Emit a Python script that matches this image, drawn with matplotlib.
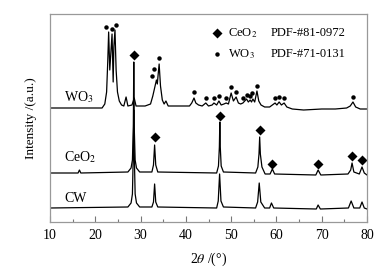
#!/usr/bin/env python3
"""
XRD patterns of WO3, CeO2 and CW samples
"""

import matplotlib
matplotlib.use('Agg')
import matplotlib.pyplot as plt

plt.rcParams['font.family'] = ['Liberation Serif', 'DejaVu Serif']
plt.rcParams['mathtext.fontset'] = 'stix'
plt.rcParams['font.size'] = 9

# pattern traces, (2theta, intensity in a.u.)
wo3_theta = [10, 21.5, 22.1, 22.5, 22.75, 22.95, 23.2, 23.45, 23.7, 23.95, 24.1, 24.35, 24.6, 24.9,
             25.3, 25.8, 26.3, 26.8, 27.2, 28.1, 28.6, 29.0, 31.0, 32.2, 32.7, 33.1, 33.5, 33.7,
             33.85, 34.1, 34.4, 34.8, 35.2, 35.6, 36.1, 40.8, 41.3, 41.8, 42.2, 42.8, 43.6, 44.4,
             45.0, 45.8, 46.2, 46.8, 47.3, 47.8, 48.4, 48.9, 49.4, 50.0, 50.5, 51.1, 51.6, 52.1,
             52.6, 53.0, 53.4, 53.8, 54.2, 54.5, 54.8, 55.2, 55.7, 56.1, 56.6, 57.4, 58.5, 59.7,
             60.1, 60.6, 61.1, 61.7, 62.3, 63.5, 66.0, 70.0, 73.0, 75.5, 76.3, 76.9, 77.5, 78.5, 80]
wo3_int = [114, 114, 118, 130, 160, 190, 152, 170, 188, 140, 175, 192, 152, 130,
           121, 117, 116, 125, 116, 117, 124, 116, 116, 118, 126, 134, 142, 138,
           146, 158, 136, 122, 118, 121, 116, 116, 119, 124, 119, 117, 116, 119,
           116, 117, 119, 117, 121, 117, 118, 119, 118, 129, 121, 125, 119, 118,
           119, 121, 123, 120, 122, 120, 123, 120, 131, 121, 117, 115, 115, 119,
           117, 120, 117, 119, 115, 113, 112, 113, 113, 114, 116, 120, 115, 113, 113]

ceo2_theta = [10, 16.2, 16.5, 16.8, 27.2, 27.9, 28.2, 28.4, 28.5, 28.6, 28.8, 29.1, 29.8, 32.5,
              32.85, 33.1, 33.35, 33.8, 46.8, 47.2, 47.4, 47.5, 47.6, 47.8, 48.3, 55.4, 55.9,
              56.15, 56.3, 56.45, 56.8, 57.5, 58.6, 59.1, 59.6, 68.7, 69.2, 69.8, 75.8, 76.4,
              76.7, 77.1, 78.3, 78.9, 79.4, 80]
ceo2_int = [49, 49, 52, 49, 50, 54, 62, 95, 160, 95, 62, 54, 50, 50,
            57, 77, 57, 50, 49, 56, 75, 100, 75, 56, 50, 49, 55,
            68, 85, 68, 55, 48, 48, 53, 48, 47, 52, 47, 48, 52,
            59, 50, 48, 55, 49, 47]

cw_theta = [10, 27.2, 27.9, 28.2, 28.4, 28.5, 28.6, 28.8, 29.1, 29.8, 32.5, 32.85, 33.1, 33.35,
            33.8, 46.8, 47.15, 47.45, 47.75, 48.3, 55.4, 55.85, 56.2, 56.55, 57.4, 58.5, 58.9,
            59.4, 68.8, 69.2, 69.7, 75.9, 76.5, 77.1, 78.4, 78.9, 79.4, 80]
cw_int = [14, 15, 19, 28, 70, 112, 70, 28, 19, 15, 15, 20, 38, 20,
          15, 14, 21, 48, 21, 15, 14, 20, 39, 20, 14, 14, 19,
          14, 13, 17, 13, 14, 21, 14, 14, 20, 14, 13]

# phase markers
wo3_dot_theta = [22.4, 23.7, 24.6, 32.5, 33.0, 34.1, 41.8, 44.4, 46.2, 47.3, 48.9, 50.0,
                 51.1, 52.6, 53.4, 54.2, 54.7, 55.7, 59.7, 60.6, 61.7, 76.9]
wo3_dot_int = [195, 193, 197, 146, 153, 164, 130, 124, 124, 126, 124, 135,
               130, 124, 127, 126, 129, 136, 124, 125, 124, 125]
ceo2_dia_theta = [28.5, 33.1, 47.5, 56.3, 59.1, 69.2, 76.7, 78.9]
ceo2_dia_int = [167, 85, 106, 92, 58, 58, 66, 62]

fig = plt.figure(figsize=(3.86, 2.68), dpi=100)
ax = fig.add_axes([50 / 386, 46 / 268, 317 / 386, 208 / 268])

for th, inten in [(wo3_theta, wo3_int), (ceo2_theta, ceo2_int), (cw_theta, cw_int)]:
    ax.plot(th, inten, color='black', lw=0.9)

ax.plot(wo3_dot_theta, wo3_dot_int, 'o', color='black', ms=3.2, mec='none')
ax.plot(ceo2_dia_theta, ceo2_dia_int, 'D', color='black', ms=5, mec='none')

# legend built by hand
ax.plot([46.9], [189], 'D', color='black', ms=5, mec='none')
ax.plot([46.9], [168], 'o', color='black', ms=3.2, mec='none')
ax.text(49.2, 189, 'CeO$_2$', va='center', ha='left')
ax.text(49.2, 168, 'WO$_3$', va='center', ha='left')
ax.text(58.8, 189, 'PDF-#81-0972', va='center', ha='left')
ax.text(58.8, 168, 'PDF-#71-0131', va='center', ha='left')

ax.text(13.2, 125, 'WO$_3$', va='center', ha='left', fontsize=10)
ax.text(13.2, 65, 'CeO$_2$', va='center', ha='left', fontsize=10)
ax.text(13.2, 23, 'CW', va='center', ha='left', fontsize=10)

ax.set_xlim(10, 80)
ax.set_ylim(0, 208)
ax.set_xticks(range(10, 81, 10))
ax.set_xticks(range(15, 80, 10), minor=True)
ax.set_yticks([])
ax.tick_params(axis='x', which='major', direction='in', length=4, width=0.8,
               color='#777777', labelsize=10, pad=5)
ax.tick_params(axis='x', which='minor', direction='in', length=2.5, width=0.8,
               color='#777777')
for side in ax.spines.values():
    side.set_color('#999999')
    side.set_linewidth(0.9)

ax.set_xlabel('2$\\it{\\theta}$ /(°)', fontsize=10, labelpad=6)
ax.set_ylabel('Intensity /(a.u.)', fontsize=9.5, labelpad=9)

fig.savefig('out.png', dpi=100)
